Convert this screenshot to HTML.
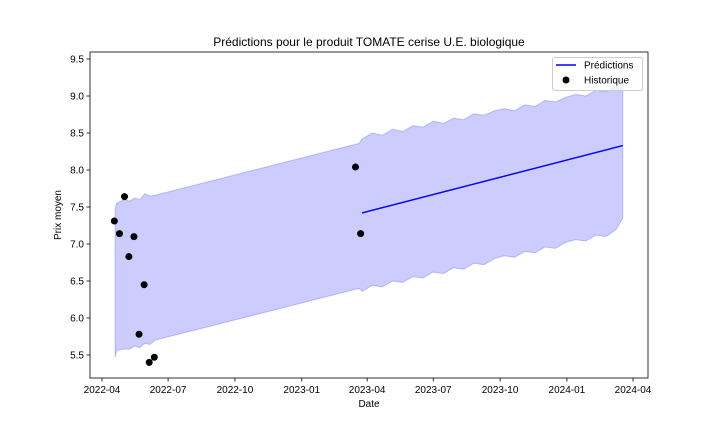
<!DOCTYPE html>
<html><head><meta charset="utf-8"><style>
body{margin:0;background:#fff;font-family:"Liberation Sans","DejaVu Sans",sans-serif}
svg text{font-family:"Liberation Sans","DejaVu Sans",sans-serif;font-size:10px;fill:#000}
</style></head><body>
<svg id="chart" width="720" height="432" xmlns="http://www.w3.org/2000/svg"></svg>
<script>
const histDates=["2022-04-18","2022-04-25","2022-05-02","2022-05-08","2022-05-15","2022-05-22","2022-05-29","2022-06-05","2022-06-12","2023-03-16","2023-03-23"];
const histValues=[7.31,7.14,7.64,6.83,7.10,5.78,6.45,5.40,5.47,8.04,7.14];
const bandDates=["2022-04-19","2022-04-21","2022-04-25","2022-05-02","2022-05-09","2022-05-16","2022-05-23","2022-05-30","2022-06-06","2022-06-13","2023-03-21",
"2023-03-25","2023-04-08","2023-04-22","2023-05-06","2023-05-20","2023-06-03","2023-06-17","2023-07-01","2023-07-15","2023-07-29","2023-08-12","2023-08-26","2023-09-09","2023-09-23","2023-10-07","2023-10-21","2023-11-04","2023-11-18","2023-12-02","2023-12-16","2023-12-30","2024-01-13","2024-01-27","2024-02-10","2024-02-24","2024-03-09","2024-03-18"];
const bandUpper=[7.47,7.55,7.57,7.60,7.58,7.62,7.60,7.68,7.65,7.66,8.36,
8.42,8.50,8.47,8.55,8.52,8.60,8.58,8.66,8.63,8.70,8.68,8.76,8.74,8.80,8.83,8.80,8.88,8.86,8.94,8.92,8.98,9.02,9.00,9.08,9.06,9.14,9.20];
const bandLower=[5.47,5.55,5.57,5.58,5.58,5.62,5.60,5.66,5.64,5.70,6.40,
6.36,6.44,6.42,6.50,6.48,6.56,6.54,6.62,6.60,6.68,6.66,6.74,6.72,6.80,6.84,6.82,6.90,6.88,6.96,6.94,7.02,7.06,7.04,7.12,7.10,7.20,7.35];
const predDates=["2023-03-25","2024-03-18"];
const predValues=[7.42,8.33];
const yTicks=[5.5,6.0,6.5,7.0,7.5,8.0,8.5,9.0,9.5];
const xTicks=["2022-04","2022-07","2022-10","2023-01","2023-04","2023-07","2023-10","2024-01","2024-04"];

const NS="http://www.w3.org/2000/svg",svg=document.getElementById("chart");
const L=90,R=648,T=52,B=378;
const d0=Date.UTC(2022,3,1);
function days(s){const p=s.split("-").map(Number);return (Date.UTC(p[0],p[1]-1,p[2]||1)-d0)/864e5;}
function X(s){return 102+days(s)*531/731;}
function Y(v){return 355-(v-5.5)*74;}
function el(t,a,txt){const e=document.createElementNS(NS,t);for(const k in a)e.setAttribute(k,a[k]);if(txt!==undefined)e.textContent=txt;svg.appendChild(e);return e;}

let d="";
bandDates.forEach((s,i)=>{d+=(i?"L":"M")+X(s).toFixed(1)+","+Y(bandUpper[i]).toFixed(1);});
for(let i=bandDates.length-1;i>=0;i--)d+="L"+X(bandDates[i]).toFixed(1)+","+Y(bandLower[i]).toFixed(1);
let band=el("path",{d:d+"Z",fill:"rgba(0,0,255,0.2)",stroke:"rgba(0,0,255,0.2)","stroke-width":1});



let pl=el("polyline",{points:predDates.map((s,i)=>X(s)+","+Y(predValues[i])).join(" "),fill:"none",stroke:"#0000ff","stroke-width":1.5});



histDates.forEach((s,i)=>{
 const c=el("circle",{cx:X(s),cy:Y(histValues[i]),r:3.5,fill:"#000"});
 
 
});

let frame=el("rect",{x:L,y:T,width:R-L,height:B-T,fill:"none",stroke:"#000","stroke-width":0.8});



yTicks.forEach(v=>{
 const y=Y(v);
 el("line",{x1:L-3.5,x2:L,y1:y,y2:y,stroke:"#000","stroke-width":0.8});
 const t=el("text",{x:L-6,y:y+3.5,"text-anchor":"end"},v.toFixed(1));
 
 
});
xTicks.forEach(s=>{
 const x=X(s);
 el("line",{x1:x,x2:x,y1:B,y2:B+3.5,stroke:"#000","stroke-width":0.8});
 const t=el("text",{x:x,y:B+15,"text-anchor":"middle"},s);
 
 
});
let tt=el("text",{x:(L+R)/2,y:46,"text-anchor":"middle","font-size":"12"},"Prédictions pour le produit TOMATE cerise U.E. biologique");
tt.style.fontSize="12px";


let xt=el("text",{x:(L+R)/2,y:407,"text-anchor":"middle"},"Date");


let yt=el("text",{x:61,y:215,"text-anchor":"middle",transform:"rotate(-90 61 215)"},"Prix moyen");



let lg=el("rect",{x:552.5,y:57.5,width:90,height:33,rx:2,fill:"rgba(255,255,255,0.8)",stroke:"#ccc","stroke-width":1});


el("line",{x1:556,x2:576,y1:65,y2:65,stroke:"#0000ff","stroke-width":1.5});
let l1=el("text",{x:584,y:68.5},"Prédictions");


el("circle",{cx:566,cy:80,r:3.5,fill:"#000"});
let l2=el("text",{x:584,y:83.5},"Historique");


</script>
</body></html>
